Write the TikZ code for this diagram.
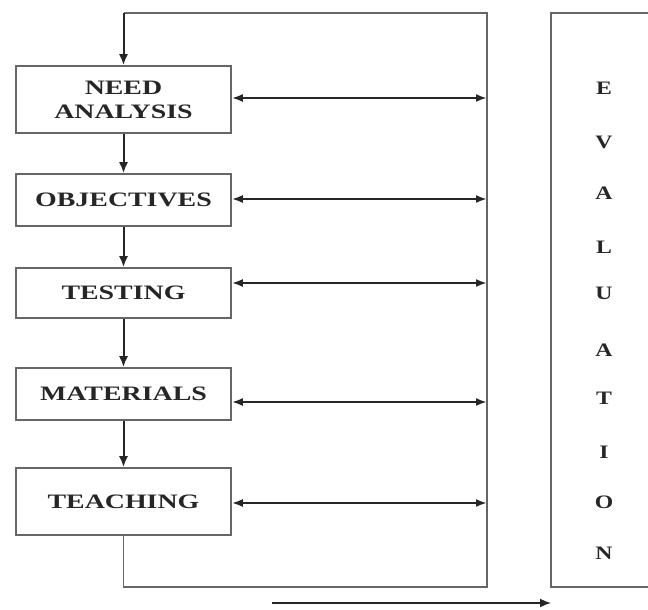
\documentclass[tikz,border=0pt]{standalone}
\usepackage{fontspec}
\setmainfont{Liberation Serif}
\usepackage{graphicx}
\usetikzlibrary{arrows.meta}
\newcommand\widetxt[1]{\scalebox{1.36}[1]{#1}}
\definecolor{linegray}{HTML}{666666}
\definecolor{arrowdark}{HTML}{262626}
\definecolor{txtdark}{HTML}{262626}
\tikzset{
  stagebox/.style={draw=linegray, line width=1.6pt, minimum width=215pt, inner sep=0pt,
    font=\fontsize{20.5}{21}\selectfont\bfseries, text=txtdark, align=center},
  flowarrow/.style={draw=arrowdark, line width=2pt, -{Latex[length=11pt,width=9pt]}},
  linkarrow/.style={draw=arrowdark, line width=2pt, {Latex[length=11pt,width=8pt]}-{Latex[length=11pt,width=8pt]}},
  loopline/.style={draw=linegray, line width=1.6pt},
  evalletter/.style={font=\fontsize{19}{19}\selectfont\bfseries, text=txtdark, inner sep=0pt}
}
\begin{document}
\begin{tikzpicture}[x=1pt,y=-1pt]
\useasboundingbox (0,0) rectangle (648,610);
\clip (0,0) rectangle (648,610);
% stage boxes
\node[stagebox, minimum height=67pt] (na) at (123.5,99.5) {\widetxt{NEED}\\[3pt]\widetxt{ANALYSIS}};
\node[stagebox, minimum height=52pt] (obj) at (123.5,200) {\widetxt{OBJECTIVES}};
\node[stagebox, minimum height=50pt] (test) at (123.5,293) {\widetxt{TESTING}};
\node[stagebox, minimum height=52pt] (mat) at (123.5,394) {\widetxt{MATERIALS}};
\node[stagebox, minimum height=67pt] (teach) at (123.5,501.5) {\widetxt{TEACHING}};
% vertical flow
\draw[flowarrow] (na) -- (obj);
\draw[flowarrow] (obj) -- (test);
\draw[flowarrow] (test) -- (mat);
\draw[flowarrow] (mat) -- (teach);
% loop
\coordinate (lbl) at (123.5,587);
\coordinate (lbr) at (487,587);
\coordinate (ltr) at (487,13);
\coordinate (ltl) at (123.5,13);
\draw[loopline] (teach.south) -- (lbl) -- (lbr) -- (ltr) -- (ltl);
\draw[flowarrow] (ltl) -- (na.north);
% links to right line
\coordinate (r1) at (487,98);
\coordinate (r2) at (487,199);
\coordinate (r3) at (487,283);
\coordinate (r4) at (487,402);
\coordinate (r5) at (487,503);
\draw[linkarrow] (r1 -| na.east) -- (r1);
\draw[linkarrow] (r2 -| obj.east) -- (r2);
\draw[linkarrow] (r3 -| test.east) -- (r3);
\draw[linkarrow] (r4 -| mat.east) -- (r4);
\draw[linkarrow] (r5 -| teach.east) -- (r5);
% evaluation box
\coordinate (etl) at (551,13);
\coordinate (ebl) at (551,587);
\draw[loopline] (670,13) -- (etl) -- (ebl) -- (670,587);
\foreach \L/\y [count=\i] in {E/88,V/142,A/193,L/247,U/293,A/350,T/398,I/452,O/502,N/553}
  \node[evalletter] (ev\i) at (604,\y) {\scalebox{1.25}[1]{\L}};
% bottom arrow
\coordinate (bs) at (272,603);
\coordinate (be) at (551,603);
\draw[flowarrow, line width=1.6pt] (bs) -- (be);
\end{tikzpicture}
\end{document}
